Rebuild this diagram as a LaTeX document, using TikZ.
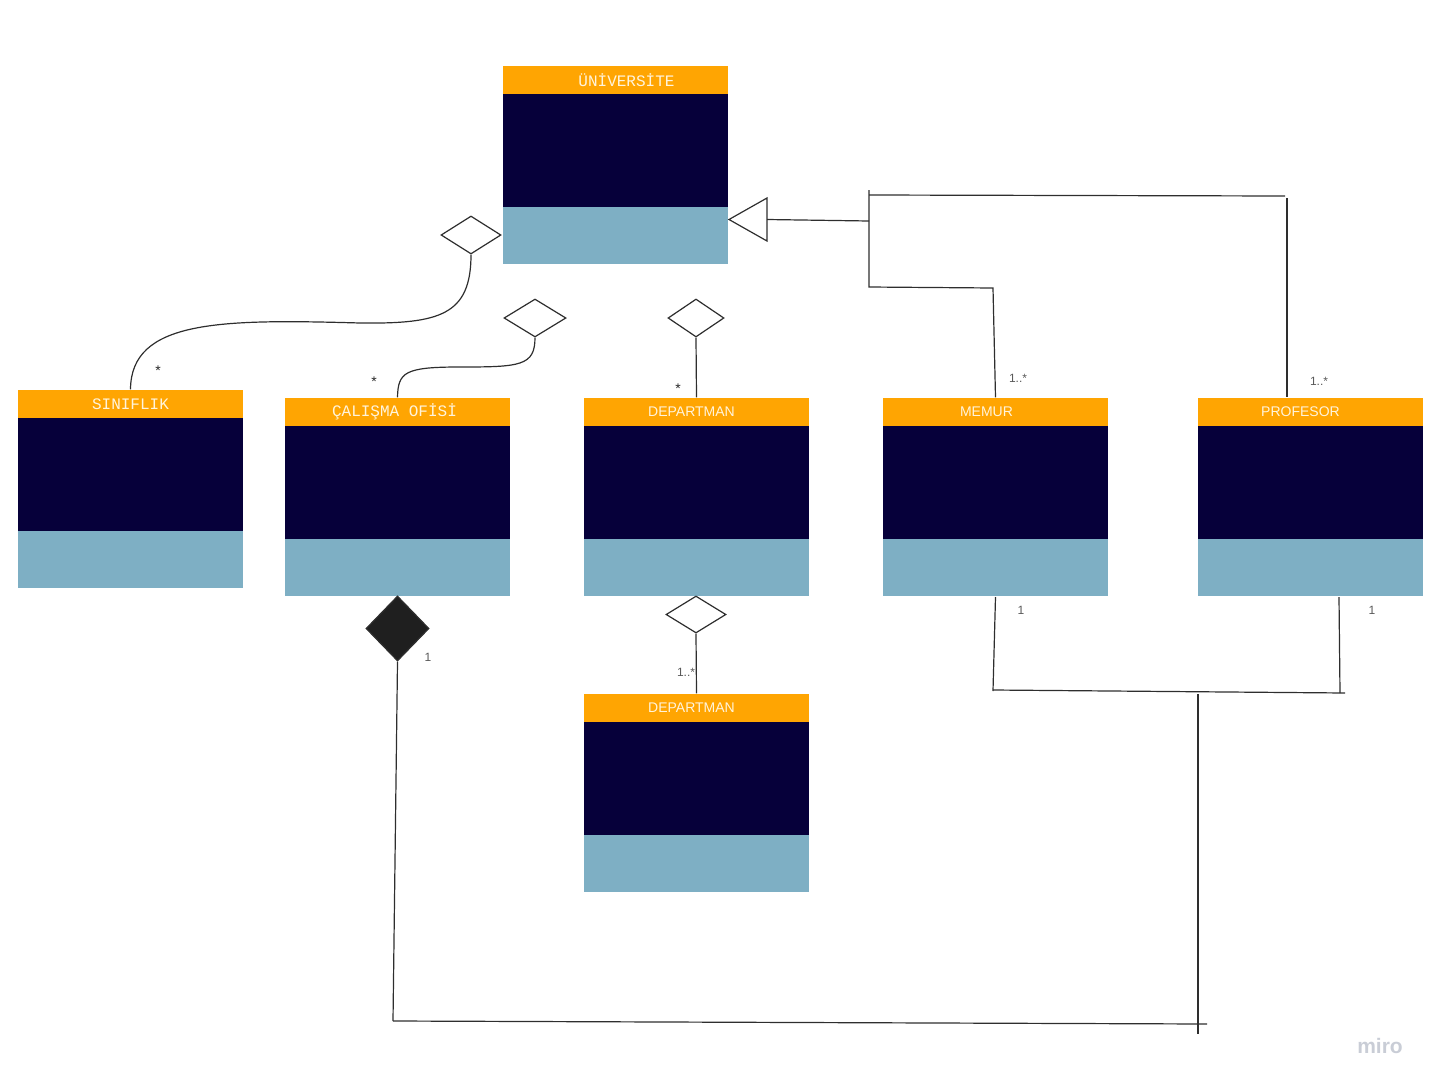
\documentclass[tikz,border=0pt]{standalone}
\usepackage{fontspec}
\usepackage{tikz}
\usetikzlibrary{shapes,positioning}
\newfontfamily\clsmono{Liberation Mono}
\newfontfamily\clssans{Liberation Sans}
\definecolor{hdcol}{HTML}{FFA502}
\definecolor{bdcol}{HTML}{06003A}
\definecolor{ftcol}{HTML}{7EAFC4}
\definecolor{lncol}{HTML}{2E2E2E}
\definecolor{txcol}{HTML}{FFF4DC}
\definecolor{wmcol}{HTML}{C9CDD6}

\begin{document}
\begin{tikzpicture}[x=1pt,y=-1pt,line width=1.2pt,
	hd/.style={rectangle,fill=hdcol,minimum width=225,minimum height=28,inner sep=0,text=txcol,font=\clsmono\fontsize{16}{16}\selectfont},
	hds/.style={hd,font=\clssans\fontsize{14}{14}\selectfont},
	bd/.style={rectangle,fill=bdcol,minimum width=225,minimum height=113.5,inner sep=0},
	ft/.style={rectangle,fill=ftcol,minimum width=225,minimum height=57.5,inner sep=0},
	agg/.style={diamond,draw=lncol,fill=white,inner sep=0,minimum width=60,minimum height=38},
	comp/.style={diamond,draw=lncol,fill=black!88,inner sep=0,minimum width=63,minimum height=65},
	ln/.style={draw=lncol},
	lbl/.style={inner sep=0,text=black!65,font=\clssans\fontsize{12}{12}\selectfont},
	star/.style={lbl,text=black!85,font=\clssans\fontsize{14}{14}\selectfont}]
		\useasboundingbox (0,0) rectangle (1436,1087);
		\node[hd] (U) at (615.5,80) {\hspace*{22pt}ÜNİVERSİTE};
		\node[bd] (Ub) [below=-1.5pt of U] {};
		\node[ft] (Uf) [below=-1.5pt of Ub] {};
		\node[hd] (S) at (130.5,404) {SINIFLIK};
		\node[bd] (Sb) [below=-1.5pt of S] {};
		\node[ft] (Sf) [below=-1.5pt of Sb] {};
		\node[hd] (C) at (397.5,412) {ÇALIŞMA OFİSİ\hspace*{6pt}};
		\node[bd] (Cb) [below=-1.5pt of C] {};
		\node[ft] (Cf) [below=-1.5pt of Cb] {};
		\node[hds] (D) at (696.5,412) {DEPARTMAN\hspace*{10pt}};
		\node[bd] (Db) [below=-1.5pt of D] {};
		\node[ft] (Df) [below=-1.5pt of Db] {};
		\node[hds] (M) at (995.5,412) {MEMUR\hspace*{18pt}};
		\node[bd] (Mb) [below=-1.5pt of M] {};
		\node[ft] (Mf) [below=-1.5pt of Mb] {};
		\node[hds] (P) at (1310.5,412) {PROFESOR\hspace*{20pt}};
		\node[bd] (Pb) [below=-1.5pt of P] {};
		\node[ft] (Pf) [below=-1.5pt of Pb] {};
		\node[hds] (E) at (696.5,708) {DEPARTMAN\hspace*{10pt}};
		\node[bd] (Eb) [below=-1.5pt of E] {};
		\node[ft] (Ef) [below=-1.5pt of Eb] {};
		\node[agg] (A1) at (471,235) {};
		\node[agg,minimum width=62] (A2) at (535,318) {};
		\node[agg,minimum width=56] (A3) at (696,318) {};
		\node[agg,minimum height=37] (A4) at (696,614.5) {};
		\node[comp] (K) at (397.5,628.5) {};
		\coordinate (T) at (767,219.5);
		\coordinate (J1) at (869,221);
		\coordinate (J2) at (869,190);
		\coordinate (J3) at (869,287);
		\coordinate (J4) at (993,288);
		\coordinate (J5) at (869,195);
		\coordinate (J6) at (1285,196);
		\coordinate (J7) at (1287,198);
		\coordinate (J8) at (993,691);
		\coordinate (J9) at (993,690);
		\coordinate (J10) at (1345,693);
		\coordinate (J11) at (1340,693);
		\coordinate (J12) at (1198,694);
		\coordinate (J13) at (1198,1034);
		\coordinate (J14) at (393,1021);
		\coordinate (J15) at (1207,1024);
		\draw[ln] (729,219.5) -- (767,198) -- (767,241) -- cycle;
		\draw[ln] (A1.south) .. controls (471,315) and (440,324) .. (360,323)
			.. controls (220,319) and (131,320) .. (S.north);
		\draw[ln] (A2.south) .. controls (535,366) and (520,367) .. (460,367)
			.. controls (405,367) and (398,372) .. (C.north);
		\path[ln]
		(A3.south) edge (D.north)
		(A4.south) edge (E.north)
		(T) edge (J1)
		(J5) edge (J6)
		(J7) edge ([xshift=-23.5]P.north)
		(Mf.south) edge (J8)
		(J9) edge (J10)
		([xshift=28.5]Pf.south) edge (J11)
		(J12) edge (J13)
		(J14) edge (J15)
		;
		\draw[ln] (J2) -- (J3) -- (J4) -- (M.north);
		\draw[ln] (K.south) -- (J14);
		\node[star] (L1) at (158,371) {*};
		\node[star] (L2) at (374,382) {*};
		\node[star] (L3) at (678,389) {*};
		\node[lbl] (L4) at (1018,378) {1..*};
		\node[lbl] (L5) at (1319,381) {1..*};
		\node[lbl] (L6) at (1021,610) {1};
		\node[lbl] (L7) at (1372,610) {1};
		\node[lbl] (L8) at (428,657) {1};
		\node[lbl] (L9) at (686,672) {1..*};
		\node[text=wmcol,inner sep=0,font=\clssans\bfseries\fontsize{21}{21}\selectfont] (W) at (1380,1046) {miro};
	\end{tikzpicture}
\end{document}
